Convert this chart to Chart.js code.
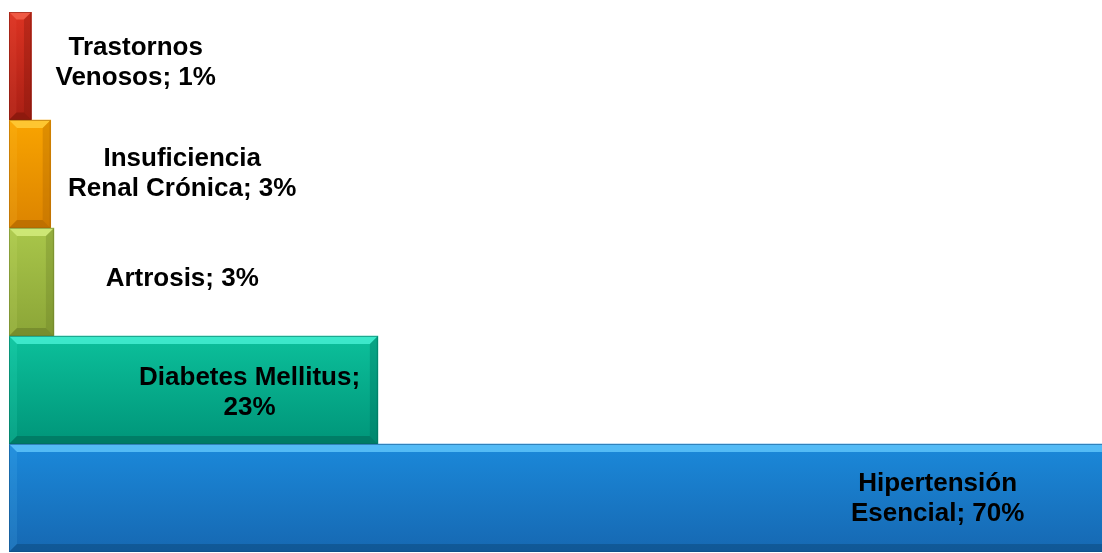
<!DOCTYPE html>
<html>
<head>
<meta charset="utf-8">
<script src="https://cdn.jsdelivr.net/npm/chart.js@4"></script>
<style>
  html, body { margin: 0; padding: 0; background: #ffffff; }
  #wrap { width: 1102px; height: 553px; position: relative; }
</style>
</head>
<body>
<div id="wrap"><canvas id="myChart"></canvas></div>
<script>
// data (top bar first)
const categories = ['Trastornos Venosos', 'Insuficiencia Renal Crónica', 'Artrosis', 'Diabetes Mellitus', 'Hipertensión Esencial'];
const barValues = [1.4, 2.6, 2.8, 23, 70];
const percentLabels = ['1%', '3%', '3%', '23%', '70%'];
const labelLines = [
    ['Trastornos', 'Venosos; 1%'],
    ['Insuficiencia', 'Renal Crónica; 3%'],
    ['Artrosis; 3%'],
    ['Diabetes Mellitus;', '23%'],
    ['Hipertensión', 'Esencial; 70%']
];

// colours: body top, body bottom, light bevel, dark bevel
const palette = [
    ['#dc3322', '#a91f14', '#f2604a', '#761409'],
    ['#f9a400', '#dc8400', '#ffcc3a', '#a55f00'],
    ['#a9c64a', '#8ba537', '#d4ec7c', '#687a26'],
    ['#0cc09b', '#009579', '#45f0d2', '#006855'],
    ['#1b89da', '#1668b2', '#5ec4fa', '#0d4a80']
];

function bodyGradient(c) {
    const i = c.dataIndex;
    const chart = c.chart;
    const ys = chart.scales.y;
    const area = chart.chartArea;
    if (!ys || !area) return palette[i][0];
    const mid = ys.getPixelForValue(i);
    const half = (area.bottom - area.top) / categories.length / 2;
    if (!isFinite(mid) || !isFinite(half)) return palette[i][0];
    const g = chart.ctx.createLinearGradient(0, mid - half, 0, mid + half);
    g.addColorStop(0, palette[i][0]);
    g.addColorStop(1, palette[i][1]);
    return g;
}

const bevelPlugin = {
    id: 'bevel',
    afterDatasetsDraw(chart) {
        const ctx = chart.ctx;
        const area = chart.chartArea;
        const meta = chart.getDatasetMeta(0);
        ctx.save();
        ctx.beginPath();
        ctx.rect(area.left, area.top, area.right - area.left, area.bottom - area.top);
        ctx.clip();
        meta.data.forEach(function(bar, i) {
            const l = bar.base, r = bar.x, t = bar.y - bar.height / 2, b = bar.y + bar.height / 2;
            const w = r - l;
            const bv = Math.min(8, w / 3);
            const c = palette[i];
            // top
            ctx.fillStyle = c[2];
            ctx.globalAlpha = 0.85;
            ctx.beginPath();
            ctx.moveTo(l, t); ctx.lineTo(r, t); ctx.lineTo(r - bv, t + bv); ctx.lineTo(l + bv, t + bv); ctx.closePath();
            ctx.fill();
            // left
            ctx.globalAlpha = 0.15;
            ctx.beginPath();
            ctx.moveTo(l, t); ctx.lineTo(l + bv, t + bv); ctx.lineTo(l + bv, b - bv); ctx.lineTo(l, b); ctx.closePath();
            ctx.fill();
            // bottom
            ctx.fillStyle = c[3];
            ctx.globalAlpha = 0.55;
            ctx.beginPath();
            ctx.moveTo(l, b); ctx.lineTo(r, b); ctx.lineTo(r - bv, b - bv); ctx.lineTo(l + bv, b - bv); ctx.closePath();
            ctx.fill();
            // right
            ctx.globalAlpha = 0.3;
            ctx.beginPath();
            ctx.moveTo(r, t); ctx.lineTo(r, b); ctx.lineTo(r - bv, b - bv); ctx.lineTo(r - bv, t + bv); ctx.closePath();
            ctx.fill();
            // thin outline
            ctx.globalAlpha = 0.5;
            ctx.strokeStyle = c[3];
            ctx.lineWidth = 1;
            ctx.strokeRect(l + 0.5, t + 0.5, w - 1, bar.height - 1);
        });
        ctx.restore();
    }
};

const labelPlugin = {
    id: 'barLabels',
    afterDraw(chart, args, opts) {
        const ctx = chart.ctx;
        const xs = chart.scales.x;
        const meta = chart.getDatasetMeta(0);
        ctx.save();
        ctx.font = 'bold 26px Arial, "Liberation Sans", Helvetica, sans-serif';
        ctx.fillStyle = '#000000';
        ctx.textAlign = 'center';
        ctx.textBaseline = 'middle';
        meta.data.forEach(function(bar, i) {
            const lines = labelLines[i];
            const cx = xs.getPixelForValue(opts.anchors[i]);
            const lh = 30;
            const y0 = bar.y - (lines.length - 1) * lh / 2 + opts.shift[i];
            lines.forEach(function(line, k) {
                ctx.fillText(line, cx, y0 + k * lh);
            });
        });
        ctx.restore();
    }
};

const ctx = document.getElementById('myChart').getContext('2d');
new Chart(ctx, {
    type: 'bar',
    data: {
        labels: categories,
        datasets: [{
            label: 'Porcentaje',
            data: barValues,
            backgroundColor: bodyGradient,
            borderWidth: 0,
            categoryPercentage: 1.0,
            barPercentage: 1.0
        }]
    },
    options: {
        indexAxis: 'y',
        responsive: true,
        maintainAspectRatio: false,
        animation: false,
        layout: { padding: { left: 9, top: 12, right: 0, bottom: 1 } },
        scales: {
            x: { display: false, min: 0, max: 68.15 },
            y: { display: false }
        },
        plugins: {
            legend: { display: false },
            tooltip: { enabled: false },
            barLabels: {
                anchors: [7.9, 10.8, 10.8, 15.0, 57.9],
                shift: [-3, 0, -3, 3, 1]
            }
        }
    },
    plugins: [bevelPlugin, labelPlugin]
});
</script>
</body>
</html>
